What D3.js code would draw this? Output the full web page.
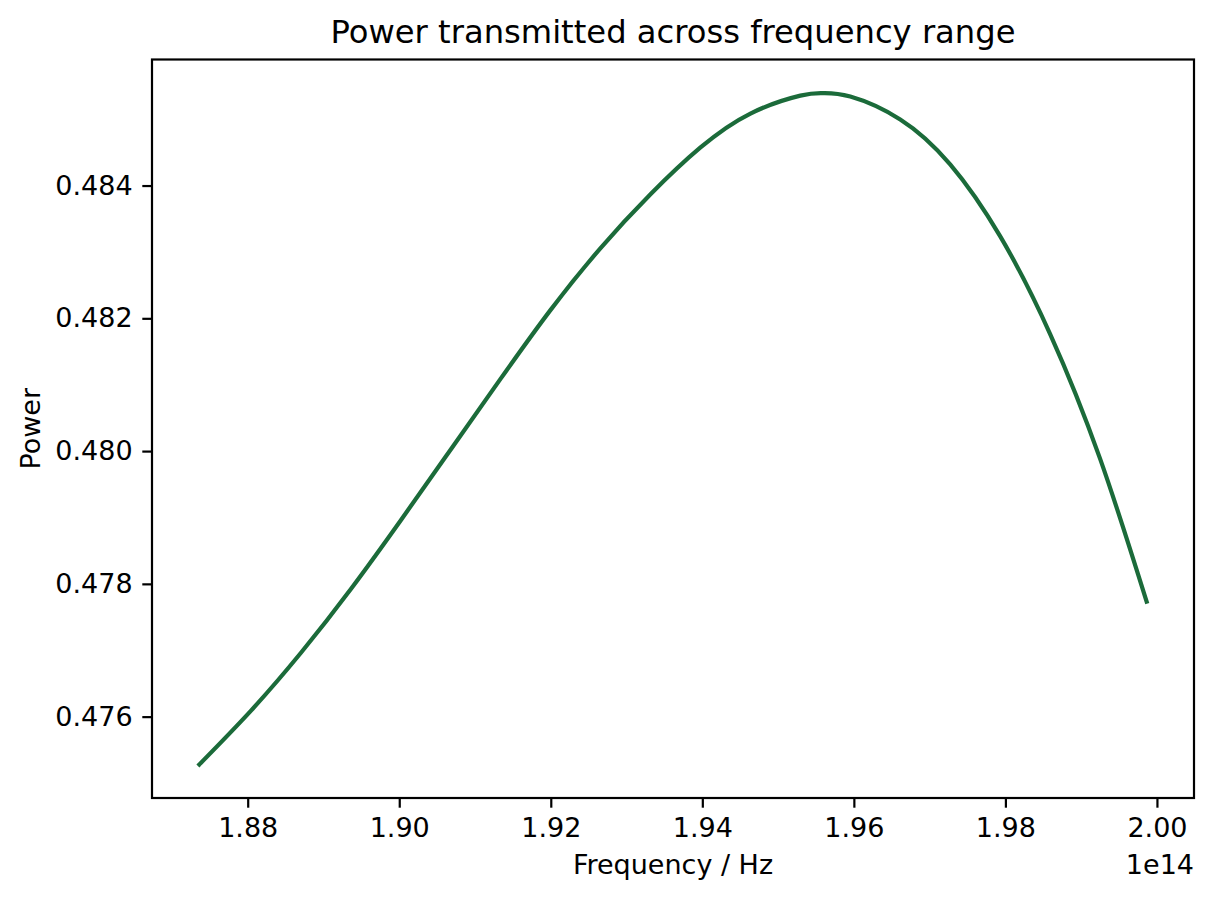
<!DOCTYPE html>
<html>
<head>
<meta charset="utf-8">
<script src="https://cdn.jsdelivr.net/npm/d3@7"></script>
<style>
  body { margin: 0; background: #fff; }
  text { font-family: "DejaVu Sans", sans-serif; fill: #000; }
</style>
</head>
<body>
<div id="chart"></div>
<script>
// frequency in units of 1e14 Hz, power
const frequency = [1.87362, 1.88044, 1.88703, 1.89362, 1.90021, 1.90680, 1.91339, 1.91998,
  1.92657, 1.93316, 1.93976, 1.94635, 1.95294, 1.95597, 1.95953, 1.96612, 1.97271,
  1.97930, 1.98589, 1.99248, 1.99864]
const power = [0.475280, 0.476091, 0.476962, 0.477923, 0.478959, 0.480025, 0.481091, 0.482127,
  0.483058, 0.483869, 0.484574, 0.485085, 0.485355, 0.485393, 0.485340, 0.484995, 0.484319,
  0.483238, 0.481767, 0.479890, 0.477732]
const xTicks = [1.88, 1.90, 1.92, 1.94, 1.96, 1.98, 2.00]
const yTicks = [0.476, 0.478, 0.480, 0.482, 0.484]

const WIDTH = 1213
const HEIGHT = 900
const MARGIN = { LEFT: 152, RIGHT: 19, TOP: 59.5, BOTTOM: 102 }
const innerW = WIDTH - MARGIN.LEFT - MARGIN.RIGHT
const innerH = HEIGHT - MARGIN.TOP - MARGIN.BOTTOM

const data = frequency.map((f, i) => ({ f: f, p: power[i] }))

// matplotlib-style 5% padding on both axes
function padded(ext) {
  const d = (ext[1] - ext[0]) * 0.05
  return [ext[0] - d, ext[1] + d]
}

const x = d3.scaleLinear()
  .domain(padded(d3.extent(frequency)))
  .range([0, innerW])
const y = d3.scaleLinear()
  .domain(padded(d3.extent(power)))
  .range([innerH, 0])

const svg = d3.select("#chart").append("svg")
  .attr("width", WIDTH)
  .attr("height", HEIGHT)

const g = svg.append("g")
  .attr("transform", `translate(${MARGIN.LEFT}, ${MARGIN.TOP})`)

const TICK = 9.7
const xAxis = d3.axisBottom(x).tickValues(xTicks).tickFormat(d3.format(".2f"))
  .tickSize(TICK).tickPadding(9.7)
const yAxis = d3.axisLeft(y).tickValues(yTicks).tickFormat(d3.format(".3f"))
  .tickSize(TICK).tickPadding(9.7)

const gx = g.append("g")
  .attr("transform", `translate(0, ${innerH})`)
  .call(xAxis)
const gy = g.append("g").call(yAxis)

;[gx, gy].forEach(ax => {
  ax.select(".domain").remove()
  ax.selectAll("line").attr("stroke", "#000").attr("stroke-width", 2.2)
  ax.selectAll("text").attr("font-size", "27px").attr("fill", "#000")
    .attr("font-family", "DejaVu Sans")
})
gx.selectAll("text").attr("dy", "0.71em")

// the line
const line = d3.line()
  .x(d => x(d.f))
  .y(d => y(d.p))
  .curve(d3.curveNatural)

g.append("path")
  .datum(data)
  .attr("fill", "none")
  .attr("stroke", "#1b6b3a")
  .attr("stroke-width", 4.2)
  .attr("stroke-linecap", "square")
  .attr("d", line)

// frame
g.append("rect")
  .attr("width", innerW)
  .attr("height", innerH)
  .attr("fill", "none")
  .attr("stroke", "#000")
  .attr("stroke-width", 2.2)

// labels
svg.append("text")
  .attr("x", MARGIN.LEFT + innerW / 2)
  .attr("y", 43)
  .attr("text-anchor", "middle")
  .attr("font-size", "32.2px")
  .text("Power transmitted across frequency range")

svg.append("text")
  .attr("x", MARGIN.LEFT + innerW / 2)
  .attr("y", 874)
  .attr("text-anchor", "middle")
  .attr("font-size", "27px")
  .text("Frequency / Hz")

svg.append("text")
  .attr("x", MARGIN.LEFT + innerW)
  .attr("y", 874)
  .attr("text-anchor", "end")
  .attr("font-size", "27px")
  .text("1e14")

svg.append("text")
  .attr("transform", `translate(40, ${MARGIN.TOP + innerH / 2}) rotate(-90)`)
  .attr("text-anchor", "middle")
  .attr("font-size", "27px")
  .text("Power")
</script>
</body>
</html>
